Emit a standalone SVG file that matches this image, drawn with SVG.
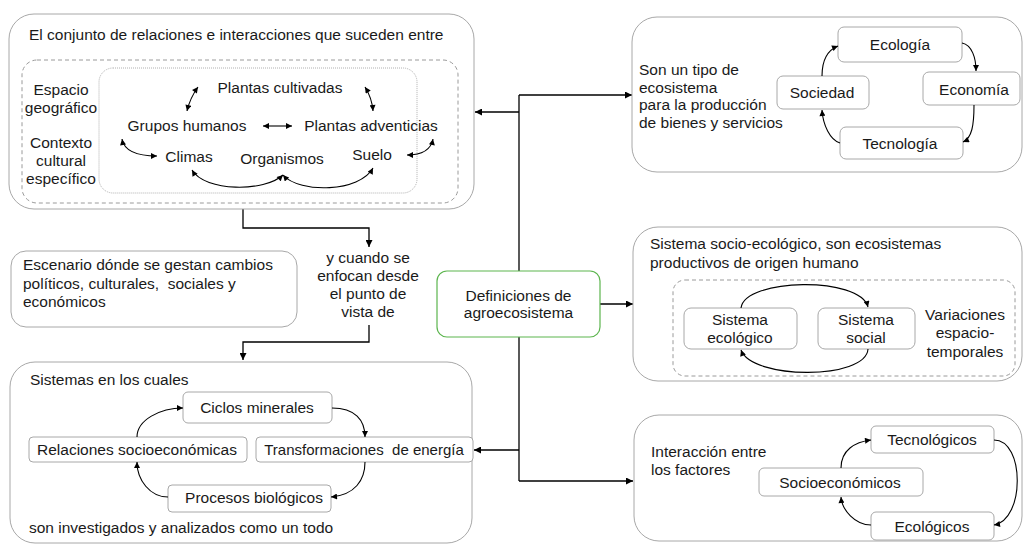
<svg xmlns="http://www.w3.org/2000/svg" width="1025" height="545" viewBox="0 0 1025 545">
<style>
.box{fill:#fff;stroke:#a8a8a8;stroke-width:1}
.ib{fill:#fff;stroke:#a8a8a8;stroke-width:1}
.dash{fill:none;stroke:#9a9a9a;stroke-width:1;stroke-dasharray:4 3}
.dot{fill:none;stroke:#b0b0b0;stroke-width:1;stroke-dasharray:1 1}
.green{fill:#fff;stroke:#5cb54e;stroke-width:1.2}
text{font-family:"Liberation Sans",Arial,sans-serif;font-size:15.5px;fill:#1a1a1a}
.c{text-anchor:middle}
.sm{font-size:15px}
.conn{fill:none;stroke:#000;stroke-width:1.3}
.cyc{fill:none;stroke:#000;stroke-width:1.1}
</style>
<defs>
<marker id="a" viewBox="0 0 10 10" refX="10" refY="5" markerWidth="8" markerHeight="7" markerUnits="userSpaceOnUse" orient="auto-start-reverse"><path d="M0,0 L10,5 L0,10 z" fill="#000"/></marker>
<marker id="s" viewBox="0 0 10 10" refX="10" refY="5" markerWidth="7" markerHeight="6" markerUnits="userSpaceOnUse" orient="auto-start-reverse"><path d="M0,0 L10,5 L0,10 z" fill="#000"/></marker>
</defs>
<rect width="1025" height="545" fill="#fff"/>

<g id="connectors">
<path class="conn" d="M519,95 L519,481"/>
<path class="conn" d="M519,95 L632,95" marker-end="url(#a)"/>
<path class="conn" d="M519,112 L475,112" marker-end="url(#a)"/>
<path class="conn" d="M519,450 L474,450" marker-end="url(#a)"/>
<path class="conn" d="M519,481 L633,481" marker-end="url(#a)"/>
<path class="conn" d="M600,304 L633,304" marker-end="url(#a)"/>
<path class="conn" d="M243,209 L243,228 L369,228 L369,247" marker-end="url(#a)"/>
<path class="conn" d="M369,325 L369,342 L243,342 L243,360" marker-end="url(#a)"/>
</g>

<g id="n-conjunto">
<rect class="box" x="9" y="14" width="465" height="195" rx="25"/>
<rect class="dash" x="22" y="60" width="436" height="143" rx="15"/>
<rect class="dot" x="99" y="68" width="318" height="125" rx="14"/>
<text x="29" y="40">El conjunto de relaciones e interacciones que suceden entre</text>
<text class="c" x="61" y="95">Espacio</text>
<text class="c" x="61" y="113">geográfico</text>
<text class="c" x="61" y="148">Contexto</text>
<text class="c" x="61" y="166">cultural</text>
<text class="c" x="61" y="184">específico</text>
<text class="c" x="280" y="93">Plantas cultivadas</text>
<text class="c" x="187" y="131">Grupos humanos</text>
<text class="c" x="371" y="131">Plantas adventicias</text>
<text class="c" x="189" y="162">Climas</text>
<text class="c" x="282" y="164">Organismos</text>
<text class="c" x="372" y="160">Suelo</text>
<g class="inner-arrows">
<path class="cyc" d="M198,87 Q190,98 187,111" marker-start="url(#s)" marker-end="url(#s)"/>
<path class="cyc" d="M365,87 Q372,98 373,111" marker-start="url(#s)" marker-end="url(#s)"/>
<path class="cyc" d="M263,126 L292,126" marker-start="url(#s)" marker-end="url(#s)"/>
<path class="cyc" d="M122,139 Q125,156 157,156" marker-start="url(#s)" marker-end="url(#s)"/>
<path class="cyc" d="M433,139 Q430,155 407,155" marker-start="url(#s)" marker-end="url(#s)"/>
<path class="cyc" d="M192,170 C205,192 265,192 283,175" marker-start="url(#s)" marker-end="url(#s)"/>
<path class="cyc" d="M283,175 C300,194 360,192 373,168" marker-start="url(#s)" marker-end="url(#s)"/>
</g>
</g>

<g id="n-enfoque">
<text class="c" x="368" y="263">y cuando se</text>
<text class="c" x="368" y="281">enfocan desde</text>
<text class="c" x="368" y="299">el punto de</text>
<text class="c" x="368" y="317">vista de</text>
</g>

<g id="n-escenario">
<rect class="box" x="11" y="251" width="286" height="76" rx="15"/>
<text x="23" y="270">Escenario dónde se gestan cambios</text>
<text x="23" y="289" xml:space="preserve">políticos, culturales,  sociales y</text>
<text x="23" y="307">económicos</text>
</g>

<g id="n-definiciones">
<rect class="green" x="437" y="271" width="163" height="66" rx="10"/>
<text class="c" x="518.5" y="301">Definiciones de</text>
<text class="c" x="518.5" y="318">agroecosistema</text>
</g>

<g id="n-sistemas">
<rect class="box" x="10" y="362" width="462" height="181" rx="25"/>
<text x="30" y="385">Sistemas en los cuales</text>
<rect class="ib" x="183" y="392" width="149" height="31" rx="5"/>
<text class="c" x="257" y="413">Ciclos minerales</text>
<rect class="ib" x="29" y="437" width="218" height="25" rx="4"/>
<text class="c" x="137" y="455">Relaciones socioeconómicas</text>
<rect class="ib" x="256" y="437" width="217" height="25" rx="4"/>
<text class="c sm" x="364" y="455" xml:space="preserve">Transformaciones  de energía</text>
<rect class="ib" x="168" y="485" width="163" height="27" rx="4"/>
<text class="c" x="254" y="503">Procesos biológicos</text>
<text x="29" y="533">son investigados y analizados como un todo</text>
<path class="cyc" d="M137,437 C137,420 160,408 183,408" marker-end="url(#s)"/>
<path class="cyc" d="M332,408 C355,408 365,420 365,437" marker-end="url(#s)"/>
<path class="cyc" d="M365,462 C365,480 355,495 331,497" marker-end="url(#s)"/>
<path class="cyc" d="M168,497 C150,497 137,480 137,462" marker-end="url(#s)"/>
</g>

<g id="n-ecosistema">
<rect class="box" x="632" y="17" width="390" height="155" rx="25"/>
<text x="639" y="75">Son un tipo de</text>
<text x="639" y="93">ecosistema</text>
<text x="639" y="110">para la producción</text>
<text x="639" y="128">de bienes y servicios</text>
<rect class="ib" x="838" y="27" width="124" height="35" rx="6"/>
<text class="c" x="900" y="50">Ecología</text>
<rect class="ib" x="923" y="72" width="97" height="33" rx="6"/>
<text class="c" x="974" y="95">Economía</text>
<rect class="ib" x="777" y="76" width="92" height="33" rx="6"/>
<text class="c" x="822" y="98">Sociedad</text>
<rect class="ib" x="840" y="127" width="123" height="32" rx="6"/>
<text class="c" x="900" y="149">Tecnología</text>
<path class="cyc" d="M822,76 C822,60 828,50 838,46" marker-end="url(#s)"/>
<path class="cyc" d="M962,43 C972,45 976,58 976,71" marker-end="url(#s)"/>
<path class="cyc" d="M974,105 C974,125 972,138 963,142" marker-end="url(#s)"/>
<path class="cyc" d="M840,143 C830,140 823,125 822,110" marker-end="url(#s)"/>
</g>

<g id="n-socioecologico">
<rect class="box" x="633" y="227" width="389" height="154" rx="25"/>
<text x="650" y="249">Sistema socio-ecológico, son ecosistemas</text>
<text x="650" y="268">productivos de origen humano</text>
<rect class="dash" x="673" y="280" width="342" height="96" rx="12"/>
<rect class="ib" x="684" y="308" width="113" height="41" rx="7"/>
<text class="c" x="740" y="325">Sistema</text>
<text class="c" x="740" y="343">ecológico</text>
<rect class="ib" x="818" y="308" width="97" height="41" rx="7"/>
<text class="c" x="866" y="325">Sistema</text>
<text class="c" x="866" y="343">social</text>
<text class="c" x="965" y="320">Variaciones</text>
<text class="c" x="965" y="338">espacio-</text>
<text class="c" x="965" y="357">temporales</text>
<path class="cyc" d="M741,308 C745,278 860,276 868,307" marker-end="url(#s)"/>
<path class="cyc" d="M868,349 C866,380 752,380 741,350" marker-end="url(#s)"/>
</g>

<g id="n-factores">
<rect class="box" x="634" y="415" width="388" height="126" rx="25"/>
<text x="651" y="457">Interacción entre</text>
<text x="651" y="475">los factores</text>
<rect class="ib" x="871" y="426" width="123" height="27" rx="5"/>
<text class="c" x="932" y="445">Tecnológicos</text>
<rect class="ib" x="759" y="468" width="164" height="28" rx="5"/>
<text class="c" x="840" y="488">Socioeconómicos</text>
<rect class="ib" x="871" y="512" width="123" height="28" rx="5"/>
<text class="c" x="932" y="532">Ecológicos</text>
<path class="cyc" d="M841,468 C841,450 855,442 871,440" marker-end="url(#s)"/>
<path class="cyc" d="M994,440 C1025,440 1025,520 994,525" marker-end="url(#s)"/>
<path class="cyc" d="M871,525 C855,525 842,510 841,497" marker-end="url(#s)"/>
</g>
</svg>
